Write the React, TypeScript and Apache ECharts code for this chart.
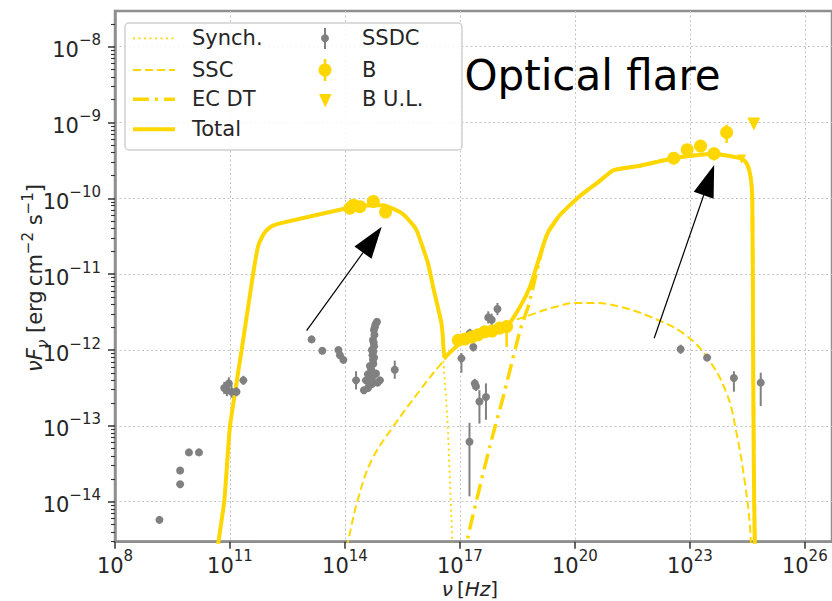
import React, { useEffect, useRef } from 'react';
import * as echarts from 'echarts';

// ---- axis extents (log10 units) and tick exponents ----
const X_RANGE = [8, 26.71];
const Y_RANGE = [-14.528, -7.529];
const xTickExponents = [8, 11, 14, 17, 20, 23, 26];
const yTickExponents = [-14, -13, -12, -11, -10, -9, -8];

// ---- model curves: [log10 nu, log10 nuFnu] ----
const synchCurve: number[][] = [
  [10.625, -14.77], [10.85, -14.0], [11.0, -13.01], [11.305, -12.0], [11.6, -11.01], [11.73, -10.64],
  [11.835, -10.51], [11.96, -10.42], [12.1, -10.365], [12.3, -10.33], [14.045, -10.13], [14.52, -10.094],
  [15.0, -10.09], [15.435, -10.18], [15.64, -10.27], [15.87, -10.42], [16.17, -10.86], [16.3, -11.165],
  [16.52, -11.65], [16.56, -12.08], [16.675, -12.92], [16.82, -14.77],
];
const sscCurve: number[][] = [
  [13.99, -14.77], [14.08, -14.53], [14.35, -13.95], [14.7, -13.45], [15.26, -13.01], [15.96, -12.53],
  [16.48, -12.2], [17.0, -11.93], [17.7, -11.78], [18.31, -11.63], [18.83, -11.54], [19.43, -11.44],
  [20.05, -11.38], [20.48, -11.38], [21.18, -11.43], [21.96, -11.56], [22.83, -11.78], [23.44, -12.09],
  [23.96, -12.57], [24.22, -13.1], [24.44, -13.76], [24.57, -14.33], [24.6, -14.77],
];
const ecdtCurve: number[][] = [
  [17.08, -14.77], [17.26, -14.35], [17.78, -13.27], [18.13, -12.62], [18.57, -11.74], [18.78, -11.43],
  [19.04, -10.9], [19.17, -10.63], [19.3, -10.44], [19.61, -10.22], [20.13, -9.97], [20.65, -9.77],
  [21.0, -9.63], [21.7, -9.57], [22.57, -9.47], [23.61, -9.41], [24.31, -9.47], [24.44, -9.51],
  [24.52, -9.58], [24.59, -9.73], [24.63, -9.98], [24.65, -11.78], [24.67, -13.54], [24.7, -14.77],
];
const totalCurve: number[][] = [
  [10.625, -14.77], [10.85, -14.0], [11.0, -13.01], [11.305, -12.0], [11.6, -11.01], [11.73, -10.64],
  [11.835, -10.51], [11.96, -10.42], [12.1, -10.365], [12.3, -10.33], [14.045, -10.13], [14.52, -10.094],
  [15.0, -10.09], [15.435, -10.18], [15.64, -10.27], [15.87, -10.42], [16.17, -10.86], [16.3, -11.165],
  [16.52, -11.65], [16.55, -11.8], [16.61, -12.09], [17.0, -11.91], [17.7, -11.78], [18.22, -11.69],
  [18.57, -11.43], [18.83, -11.165], [19.0, -10.9], [19.18, -10.61], [19.31, -10.44], [19.61, -10.22],
  [20.13, -9.97], [20.65, -9.77], [21.0, -9.63], [21.7, -9.57], [22.57, -9.47], [23.61, -9.41],
  [24.31, -9.47], [24.44, -9.51], [24.52, -9.58], [24.59, -9.73], [24.63, -9.98], [24.65, -11.78],
  [24.67, -13.54], [24.7, -14.77],
];

// ---- data points: [log10 nu, log10 nuFnu, low, high] ----
const ssdcPoints: number[][] = [
  [9.16, -14.24, -14.24, -14.24], [9.7, -13.77, -13.77, -13.77], [9.7, -13.59, -13.59, -13.59],
  [9.93, -13.35, -13.35, -13.35], [10.19, -13.35, -13.35, -13.35],
  [10.85, -12.5, -12.58, -12.42], [10.92, -12.53, -12.61, -12.45], [10.97, -12.44, -12.52, -12.36],
  [11.04, -12.55, -12.63, -12.47], [11.17, -12.55, -12.61, -12.49], [11.35, -12.4, -12.46, -12.34],
  [13.13, -11.86, -11.86, -11.86], [13.41, -12.01, -12.01, -12.01], [13.83, -12.0, -12.0, -12.0],
  [13.87, -12.07, -12.07, -12.07], [13.96, -12.13, -12.13, -12.13], [14.29, -12.4, -12.52, -12.28],
  [14.836, -11.627, -11.627, -11.627], [14.8, -11.66, -11.66, -11.66], [14.78, -11.7, -11.7, -11.7],
  [14.77, -11.8, -11.8, -11.8], [14.757, -11.736, -11.736, -11.736], [14.731, -11.868, -11.868, -11.868],
  [14.75, -11.9, -11.9, -11.9], [14.76, -11.95, -11.95, -11.95], [14.705, -12.0, -12.0, -12.0],
  [14.74, -12.02, -12.02, -12.02], [14.72, -12.07, -12.07, -12.07], [14.76, -12.1, -12.1, -12.1],
  [14.731, -12.13, -12.13, -12.13], [14.74, -12.18, -12.18, -12.18], [14.68, -12.25, -12.25, -12.25],
  [14.653, -12.21, -12.21, -12.21], [14.7, -12.28, -12.28, -12.28], [14.6, -12.32, -12.32, -12.32],
  [14.81, -12.31, -12.31, -12.31], [14.75, -12.33, -12.33, -12.33], [14.66, -12.36, -12.36, -12.36],
  [14.548, -12.4, -12.4, -12.4], [14.7, -12.38, -12.38, -12.38], [14.705, -12.45, -12.45, -12.45],
  [14.64, -12.44, -12.44, -12.44], [14.914, -12.4, -12.4, -12.4], [14.85, -12.43, -12.43, -12.43],
  [14.6, -12.5, -12.5, -12.5], [14.496, -12.53, -12.53, -12.53],
  [15.3, -12.26, -12.38, -12.14],
  [17.04, -12.11, -12.3, -12.04], [17.26, -11.78, -11.84, -11.72], [17.35, -11.96, -12.02, -11.9],
  [17.25, -13.21, -13.93, -12.96], [17.39, -12.44, -12.5, -12.38], [17.42, -12.48, -12.54, -12.42],
  [17.51, -12.68, -12.97, -12.53], [17.68, -12.62, -12.92, -12.44], [17.74, -11.57, -11.65, -11.49],
  [17.83, -11.6, -11.68, -11.52], [17.98, -11.46, -11.54, -11.38],
  [22.76, -11.99, -12.05, -11.93], [23.45, -12.1, -12.13, -12.07], [24.15, -12.37, -12.55, -12.28],
  [24.85, -12.43, -12.74, -12.3],
];
const bPoints: number[][] = [
  [14.13, -10.13, -10.13, -10.13], [14.22, -10.09, -10.09, -10.09], [14.39, -10.11, -10.11, -10.11],
  [14.74, -10.04, -10.04, -10.04], [15.06, -10.18, -10.18, -10.18],
  [16.96, -11.87, -11.87, -11.87], [17.13, -11.855, -11.855, -11.855], [17.31, -11.83, -11.83, -11.83],
  [17.47, -11.8, -11.8, -11.8], [17.65, -11.76, -11.76, -11.76], [17.84, -11.75, -11.75, -11.75],
  [18.04, -11.71, -11.71, -11.71], [18.22, -11.69, -11.96, -11.63],
  [22.58, -9.47, -9.47, -9.47], [22.93, -9.36, -9.36, -9.36], [23.28, -9.31, -9.31, -9.31],
  [23.63, -9.41, -9.5, -9.33], [23.96, -9.13, -9.27, -9.03],
];
const bUpperLimits: number[][] = [[24.35, -9.48], [24.67, -9.02]];

// ---- annotation arrows: [start x, start y, tip x, tip y] ----
const arrowLines: number[][] = [
  [13.0, -11.745, 14.96, -10.374],
  [22.07, -11.845, 23.635, -9.56],
];

const GOLD = '#FFD700';
const GRAY = '#808080';
const SPINE = '#8f8f8f';
const TXT = '#262626';
const FONT = 'DejaVu Sans';

const minorTicks: number[] = [];
for (let d = -15; d <= -8; d++) {
  for (let k = 2; k <= 9; k++) {
    const v = d + Math.log10(k);
    if (v > Y_RANGE[0] && v < Y_RANGE[1]) minorTicks.push(v);
  }
}

const tickRich = {
  b: { fontFamily: FONT, fontSize: 21, color: TXT, lineHeight: 28, verticalAlign: 'bottom' },
  s: { fontFamily: FONT, fontSize: 15, color: TXT, lineHeight: 16, verticalAlign: 'top' },
};

const errorBars = (name: string, pts: number[][], color: string, width: number) => ({
  type: 'custom',
  name,
  data: pts.filter((p) => p[2] !== p[3]).map((p) => [p[0], p[2], p[3]]),
  clip: true,
  silent: true,
  z: 4,
  encode: { x: 0, y: [1, 2] },
  renderItem: (_params: any, api: any) => {
    const lo = api.coord([api.value(0), api.value(1)]);
    const hi = api.coord([api.value(0), api.value(2)]);
    return {
      type: 'line',
      shape: { x1: lo[0], y1: lo[1], x2: hi[0], y2: hi[1] },
      style: { stroke: color, lineWidth: width },
    };
  },
});

export default function App() {
  const ref = useRef<HTMLDivElement>(null);
  useEffect(() => {
    if (!ref.current) return;
    const chart = echarts.init(ref.current, undefined, { renderer: 'svg' });
    const lineSeries = (name: string, data: number[][], width: number, type: any, z: number, smooth: number) => ({
      type: 'line',
      name,
      data,
      showSymbol: false,
      symbol: 'none',
      clip: true,
      silent: true,
      smooth,
      z,
      lineStyle: { color: GOLD, width, type },
    });
    const option: any = {
      animation: false,
      backgroundColor: '#fff',
      grid: {
        left: 115, top: 11, width: 717, height: 530.7,
        show: true, borderColor: SPINE, borderWidth: 2.5, backgroundColor: '#fff',
      },
      xAxis: {
        type: 'value', min: X_RANGE[0], max: X_RANGE[1],
        axisLine: { show: true, lineStyle: { color: SPINE, width: 2.5 } },
        axisTick: { show: true, customValues: xTickExponents, length: 7, lineStyle: { color: '#333', width: 1.5 } },
        axisLabel: {
          customValues: xTickExponents, margin: 7,
          formatter: (v: number) => `{b|10}{s|${Math.round(v)}}`,
          rich: tickRich,
        },
        splitLine: { show: true, lineStyle: { color: '#c4c4c4', width: 1, type: [2, 2.5] } },
      },
      yAxis: [
        {
          type: 'value', min: Y_RANGE[0], max: Y_RANGE[1],
          axisLine: { show: true, lineStyle: { color: SPINE, width: 2.5 } },
          axisTick: { show: true, customValues: yTickExponents, length: 7, lineStyle: { color: '#333', width: 1.5 } },
          axisLabel: {
            customValues: yTickExponents, margin: 14,
            formatter: (v: number) => `{b|10}{s|\u2212${Math.abs(Math.round(v))}}`,
            rich: tickRich,
          },
          splitLine: { show: true, lineStyle: { color: '#c4c4c4', width: 1, type: [2, 2.5] } },
        },
        {
          type: 'value', min: Y_RANGE[0], max: Y_RANGE[1], position: 'left', offset: 0,
          axisLine: { show: false },
          axisTick: { show: true, customValues: minorTicks, length: 4, lineStyle: { color: '#333', width: 1.1 } },
          axisLabel: { show: false },
          splitLine: { show: false },
        },
      ],
      series: [
        lineSeries('Synch.', synchCurve, 1.8, [2, 3.5], 2, 0.15),
        lineSeries('SSC', sscCurve, 2, [8, 4], 2, 0.4),
        lineSeries('EC DT', ecdtCurve, 3.5, [16, 6, 3, 6], 2, 0.15),
        lineSeries('Total', totalCurve, 4, 'solid', 3, 0.15),
        {
          type: 'custom',
          name: 'arrows',
          data: arrowLines,
          clip: false,
          silent: true,
          z: 8,
          encode: { x: [0, 2], y: [1, 3] },
          renderItem: (_params: any, api: any) => {
            const p0 = api.coord([api.value(0), api.value(1)]);
            const p1 = api.coord([api.value(2), api.value(3)]);
            const dx = p1[0] - p0[0];
            const dy = p1[1] - p0[1];
            const len = Math.sqrt(dx * dx + dy * dy);
            const ux = dx / len;
            const uy = dy / len;
            const headLen = 32;
            const headW = 21;
            const bx = p1[0] - ux * headLen;
            const by = p1[1] - uy * headLen;
            const nx = -uy;
            const ny = ux;
            return {
              type: 'group',
              children: [
                { type: 'line', shape: { x1: p0[0], y1: p0[1], x2: bx, y2: by }, style: { stroke: '#000', lineWidth: 1.2 } },
                {
                  type: 'polygon',
                  shape: { points: [[p1[0], p1[1]], [bx + nx * headW / 2, by + ny * headW / 2], [bx - nx * headW / 2, by - ny * headW / 2]] },
                  style: { fill: '#000' },
                },
              ],
            };
          },
        },
        errorBars('SSDC err', ssdcPoints, GRAY, 2),
        {
          type: 'scatter', name: 'SSDC', data: ssdcPoints.map((p) => [p[0], p[1]]),
          symbol: 'circle', symbolSize: 8, itemStyle: { color: GRAY, opacity: 1 }, z: 5, silent: true,
        },
        errorBars('B err', bPoints, GOLD, 2.5),
        {
          type: 'scatter', name: 'B', data: bPoints.map((p) => [p[0], p[1]]),
          symbol: 'circle', symbolSize: 13, itemStyle: { color: GOLD, opacity: 1 }, z: 6, silent: true,
        },
        {
          type: 'scatter', name: 'B U.L.', data: bUpperLimits,
          symbol: 'triangle', symbolRotate: 180,
          symbolSize: (_v: any, p: any) => (p.dataIndex === 0 ? 9 : 13),
          itemStyle: { color: GOLD, opacity: 1 }, z: 6, silent: true,
        },
      ],
      graphic: [
        {
          type: 'text', x: 464.5, y: 75, z: 50,
          style: { text: 'Optical flare', fontFamily: FONT, fontSize: 42, fill: '#000', verticalAlign: 'middle', align: 'left' },
        },
        // legend box
        {
          type: 'rect', z: 60, shape: { x: 125, y: 23, width: 337, height: 127, r: 4 },
          style: { fill: 'rgba(255,255,255,0.85)', stroke: '#d0d0d0', lineWidth: 1.5 },
        },
        { type: 'line', z: 61, shape: { x1: 133, y1: 38.3, x2: 175, y2: 38.3 }, style: { stroke: GOLD, lineWidth: 1.8, lineDash: [2, 3.5] } },
        { type: 'line', z: 61, shape: { x1: 133, y1: 70, x2: 175, y2: 70 }, style: { stroke: GOLD, lineWidth: 2, lineDash: [8, 4] } },
        { type: 'line', z: 61, shape: { x1: 133, y1: 99.3, x2: 175, y2: 99.3 }, style: { stroke: GOLD, lineWidth: 3.5, lineDash: [16, 6, 3, 6] } },
        { type: 'line', z: 61, shape: { x1: 133, y1: 129.3, x2: 175, y2: 129.3 }, style: { stroke: GOLD, lineWidth: 4 } },
        { type: 'line', z: 61, shape: { x1: 325, y1: 28, x2: 325, y2: 49 }, style: { stroke: GRAY, lineWidth: 2 } },
        { type: 'circle', z: 62, shape: { cx: 325, cy: 38.3, r: 4 }, style: { fill: GRAY } },
        { type: 'line', z: 61, shape: { x1: 325, y1: 59, x2: 325, y2: 81 }, style: { stroke: GOLD, lineWidth: 2.5 } },
        { type: 'circle', z: 62, shape: { cx: 325, cy: 70, r: 6.5 }, style: { fill: GOLD } },
        { type: 'polygon', z: 62, shape: { points: [[319, 94], [331.5, 94], [325.3, 107.5]] }, style: { fill: GOLD } },
        ...[
          ['Synch.', 192, 37.5], ['SSC', 192, 69.5], ['EC DT', 192, 99], ['Total', 192, 128.5],
          ['SSDC', 362, 37.5], ['B', 362, 69.5], ['B U.L.', 362, 99],
        ].map(([t, x, y]) => ({
          type: 'text', z: 63, x, y,
          style: { text: t, fontFamily: FONT, fontSize: 21, fill: TXT, verticalAlign: 'middle', align: 'left' },
        })),
        // axis titles
        {
          type: 'text', x: 470, y: 589, z: 50,
          style: {
            text: '{i|\u03bd}{n|\u2009[}{i|Hz}{n|]}', align: 'center', verticalAlign: 'middle',
            rich: {
              i: { fontFamily: FONT, fontStyle: 'italic', fontSize: 20, fill: TXT },
              n: { fontFamily: FONT, fontSize: 20, fill: TXT },
            },
          },
        },
        {
          type: 'text', x: 35, y: 278, z: 50, rotation: Math.PI / 2,
          style: {
            text: '{i|\u03bdF}{sub|\u03bd}{n| [erg\u2009cm}{sup|\u22122}{n| s}{sup|\u22121}{n|]}',
            align: 'center', verticalAlign: 'middle',
            rich: {
              i: { fontFamily: FONT, fontStyle: 'italic', fontSize: 21, fill: TXT, lineHeight: 30, verticalAlign: 'middle' },
              sub: { fontFamily: FONT, fontStyle: 'italic', fontSize: 15, fill: TXT, lineHeight: 20, verticalAlign: 'bottom' },
              n: { fontFamily: FONT, fontSize: 21, fill: TXT, lineHeight: 30, verticalAlign: 'middle' },
              sup: { fontFamily: FONT, fontSize: 15, fill: TXT, lineHeight: 16, verticalAlign: 'top' },
            },
          },
        },
      ],
    };
    chart.setOption(option);
    return () => chart.dispose();
  }, []);
  return <div ref={ref} style={{ position: 'fixed', left: 0, top: 0, width: 832, height: 601 }} />;
}
